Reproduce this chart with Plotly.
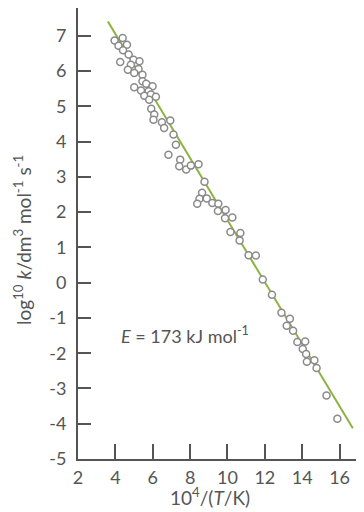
import plotly.graph_objects as go

# Data
inv_T = [3.96, 4.39, 4.17, 4.62, 4.41, 4.71, 4.26, 4.97, 5.29, 4.83,
         4.67, 5.24, 5.01, 5.45, 5.45, 5.65, 5.01, 5.99, 5.37, 5.78,
         5.55, 5.90, 5.81, 6.17, 5.92, 6.08, 6.04, 6.49, 6.94, 6.61,
         7.11, 7.24, 6.84, 7.47, 7.42, 7.79, 8.04, 8.45, 8.77, 8.64,
         8.50, 8.38, 8.89, 9.19, 9.51, 9.49, 9.90, 9.87, 10.26, 10.16,
         10.69, 10.65, 11.13, 11.52, 11.89, 12.38, 12.89, 13.34, 13.17, 13.51,
         13.74, 14.16, 14.03, 14.21, 14.25, 14.65, 14.77, 15.30, 15.88]
log_k = [6.87, 6.94, 6.72, 6.75, 6.59, 6.47, 6.26, 6.32, 6.28, 6.18,
         6.04, 6.06, 5.95, 5.90, 5.71, 5.64, 5.54, 5.57, 5.45, 5.43,
         5.30, 5.34, 5.19, 5.27, 4.93, 4.77, 4.62, 4.55, 4.60, 4.39,
         4.20, 3.91, 3.63, 3.49, 3.30, 3.21, 3.32, 3.36, 2.86, 2.55,
         2.38, 2.24, 2.39, 2.26, 2.24, 2.03, 2.06, 1.83, 1.85, 1.44,
         1.41, 1.20, 0.78, 0.77, 0.09, -0.34, -0.85, -1.02, -1.22, -1.36,
         -1.68, -1.67, -1.88, -2.02, -2.24, -2.20, -2.42, -3.20, -3.86]

fit_x = [3.60, 16.71]
fit_y = [7.41, -4.13]

x_ticks = [2, 4, 6, 8, 10, 12, 14, 16]
y_ticks = [-5, -4, -3, -2, -1, 0, 1, 2, 3, 4, 5, 6, 7]

FONT = "Lato"
TXT = "#555555"
AX = "#555555"

# the page body has an 8 px margin, so the figure starts 8 px in from top-left
OFF = 8
W, H = 364 - OFF, 512 - OFF
ML, MR, MT, MB = 78 - OFF, 2, 8 - OFF, 53

fig = go.Figure()
fig.add_trace(go.Scatter(x=fit_x, y=fit_y, mode="lines",
                         line=dict(color="#8db33f", width=2),
                         showlegend=False, hoverinfo="skip"))
fig.add_trace(go.Scatter(x=inv_T, y=log_k, mode="markers",
                         marker=dict(symbol="circle", size=7, color="white",
                                     line=dict(color="#8a8a8a", width=1.5)),
                         showlegend=False))

fig.update_layout(
    width=W, height=H,
    margin=dict(l=ML, r=MR, t=MT, b=MB, autoexpand=False),
    plot_bgcolor="white", paper_bgcolor="white",
    font=dict(family=FONT, color=TXT, size=18),
    xaxis=dict(range=[2, 17.2], tickvals=x_ticks, ticktext=[str(v) for v in x_ticks],
               showline=True, linecolor=AX, linewidth=2, showgrid=False, zeroline=False,
               ticks="inside", ticklen=15, tickwidth=2, tickcolor=AX, automargin=False,
               tickfont=dict(family=FONT, size=18, color=TXT), ticklabelstandoff=1),
    yaxis=dict(range=[-5, 7.79], tickvals=y_ticks, ticktext=[str(v) for v in y_ticks],
               showline=True, linecolor=AX, linewidth=2, showgrid=False, zeroline=False,
               ticks="inside", ticklen=13, tickwidth=2, tickcolor=AX, automargin=False,
               tickfont=dict(family=FONT, size=18, color=TXT), ticklabelstandoff=6),
)

pw = W - ML - MR
ph = H - MT - MB


def px_to_paper(px, py):
    # px, py are page pixel positions
    fx, fy = px - OFF, py - OFF
    return (fx - ML) / pw, (H - MB - fy) / ph


fig.add_annotation(x=7.71, y=-1.47, xref="x", yref="y", showarrow=False,
                   xanchor="center", yanchor="middle",
                   text="<i>E</i> = 173 kJ mol<sup>-1</sup>",
                   font=dict(family=FONT, size=18, color=TXT))
ax_, ay_ = px_to_paper(210, 496)
fig.add_annotation(x=ax_, y=ay_, xref="paper", yref="paper", showarrow=False,
                   xanchor="center", yanchor="middle",
                   text="10<sup>4</sup>/(<i>T</i>/K)",
                   font=dict(family=FONT, size=19, color=TXT))
ax_, ay_ = px_to_paper(22, 240)
fig.add_annotation(x=ax_, y=ay_, xref="paper", yref="paper", showarrow=False,
                   xanchor="center", yanchor="middle", textangle=-90,
                   text="log<sup>10</sup> <i>k</i>/dm<sup>3</sup> mol<sup>-1</sup> s<sup>-1</sup>",
                   font=dict(family=FONT, size=19, color=TXT))

fig.write_html("out.html")
